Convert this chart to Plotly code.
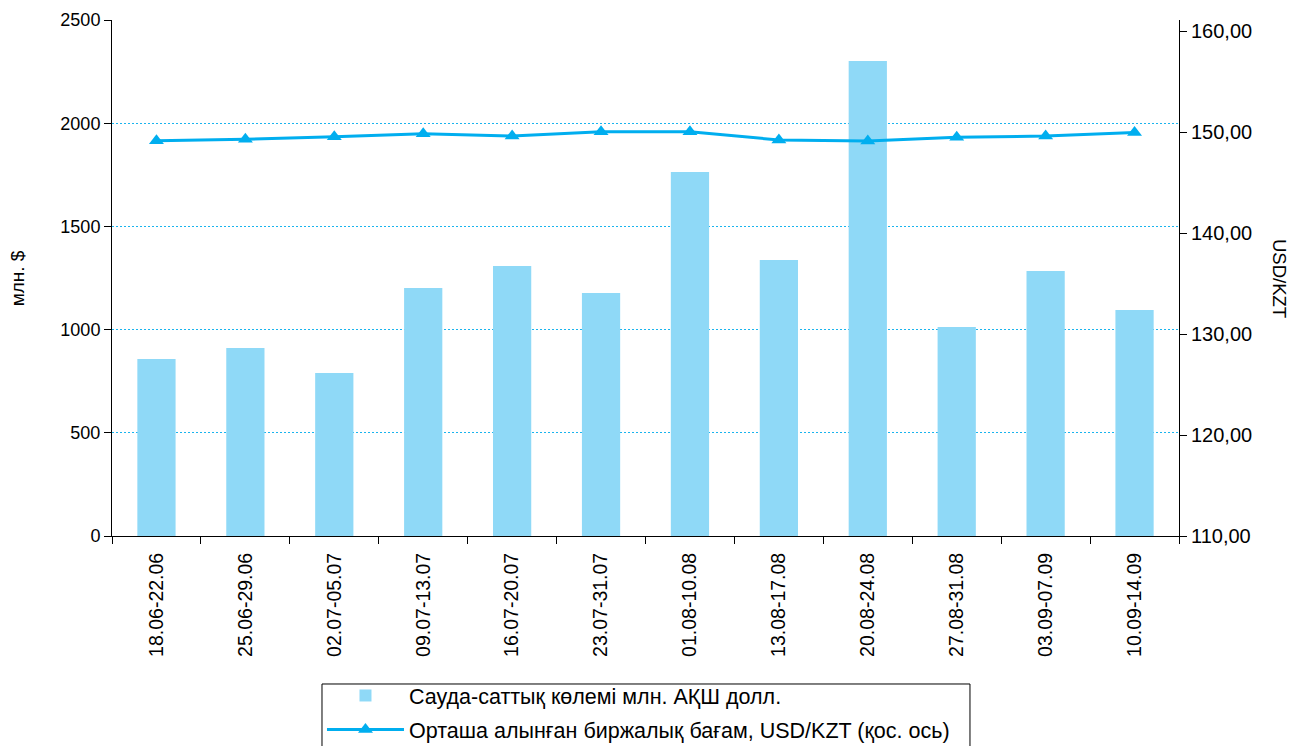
import plotly.graph_objects as go

# Weekly periods
periods = ["18.06-22.06", "25.06-29.06", "02.07-05.07", "09.07-13.07",
           "16.07-20.07", "23.07-31.07", "01.08-10.08", "13.08-17.08",
           "20.08-24.08", "27.08-31.08", "03.09-07.09", "10.09-14.09"]

# Trading volume, mln USD
volume = [858, 911, 790, 1202, 1308, 1177, 1764, 1337, 2301, 1013, 1284, 1095]

# Weighted average exchange rate, USD/KZT
rate = [149.14, 149.28, 149.53, 149.83, 149.60, 150.03,
        150.03, 149.21, 149.11, 149.48, 149.60, 149.95]

left_ticks = [0, 500, 1000, 1500, 2000, 2500]
right_ticks = [110, 120, 130, 140, 150, 160]

FONT = "Arial, 'Liberation Sans', sans-serif"
BAR_COLOR = "#8fd9f7"
LINE_COLOR = "#00aeef"
GRID_COLOR = "#1ab4ee"

fig = go.Figure()

fig.add_trace(go.Bar(
    x=periods, y=volume,
    name="Сауда-саттық көлемі млн. АҚШ долл.",
    legendgroup="volume",
    marker=dict(color=BAR_COLOR, line=dict(width=0)),
    yaxis="y",
))

fig.add_trace(go.Scatter(
    x=periods, y=rate,
    name="Орташа алынған биржалық бағам, USD/KZT (қос. ось)",
    legendgroup="rate",
    mode="lines+markers",
    line=dict(color=LINE_COLOR, width=3),
    marker=dict(symbol="triangle-up", size=13, color=LINE_COLOR),
    yaxis="y2",
))

fig.update_layout(
    width=1293, height=746,
    margin=dict(l=112, r=114, t=20, b=210, autoexpand=False),
    paper_bgcolor="white", plot_bgcolor="white",
    font=dict(family=FONT, size=18, color="black"),
    separators=",.",
    bargap=0.57,
    showlegend=True,
    legend=dict(
        x=0.1968, y=-0.2694, xanchor="left", yanchor="top",
        borderwidth=0, bgcolor="rgba(0,0,0,0)",
        font=dict(size=21.5), traceorder="grouped", tracegroupgap=3,
        itemwidth=77,
    ),
    # legend frame
    shapes=[dict(type="rect", xref="paper", yref="paper",
                 x0=0.1968, x1=0.8041, y0=-0.2868, y1=-0.42,
                 line=dict(color="black", width=1),
                 fillcolor="rgba(0,0,0,0)", layer="below")],
    xaxis=dict(
        type="category", range=[-0.5, len(periods) - 0.5],
        tickson="boundaries", ticks="outside", ticklen=7,
        tickcolor="black", tickangle=-90, showline=True, linecolor="black",
        linewidth=1, showgrid=False, tickfont=dict(size=19.5),
        ticklabelstandoff=8,
    ),
    yaxis=dict(
        range=[0, 2500], tickvals=left_ticks, ticks="outside", ticklen=7,
        tickcolor="black", showline=True, linecolor="black", linewidth=1,
        showgrid=True, gridcolor=GRID_COLOR, griddash="2px,2px", gridwidth=1,
        zeroline=False, tickfont=dict(size=18),
    ),
    yaxis2=dict(
        overlaying="y", side="right", range=[110, 161.09],
        tickvals=right_ticks, tickformat=".2f", ticks="outside", ticklen=7,
        tickcolor="black", showline=True, linecolor="black", linewidth=1,
        showgrid=False, zeroline=False, tickfont=dict(size=20),
    ),
    annotations=[
        dict(text="млн. $", xref="paper", yref="paper", x=-0.0887, y=0.5,
             textangle=-90, showarrow=False, font=dict(size=19),
             xanchor="center", yanchor="middle"),
        dict(text="USD/KZT", xref="paper", yref="paper", x=1.0947, y=0.5,
             textangle=90, showarrow=False, font=dict(size=18.5),
             xanchor="center", yanchor="middle"),
    ],
)

fig.write_html("out.html")
